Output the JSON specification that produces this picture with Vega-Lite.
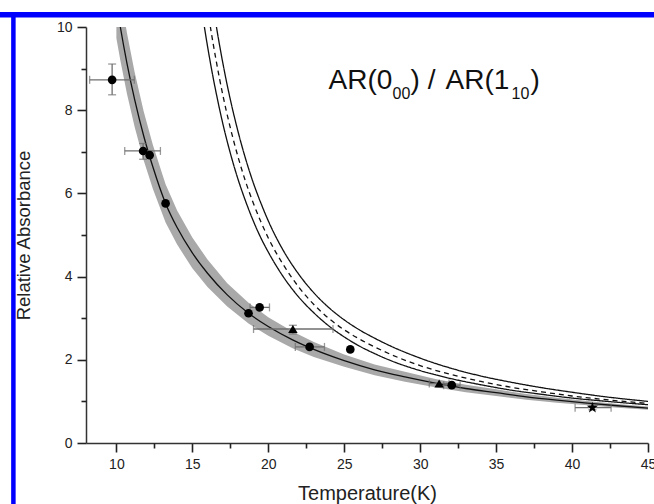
{
  "$schema": "https://vega.github.io/schema/vega-lite/v6.json",
  "width": 562,
  "height": 416,
  "autosize": "none",
  "padding": {"left": 86, "top": 27, "right": 6, "bottom": 61},
  "background": "white",
  "config": {"view": {"stroke": null}, "font": "Liberation Sans"},
  "resolve": {"axis": {"x": "independent", "y": "independent"}},
  "datasets": {
    "fit": [
      {"T": 10.0, "y": 10.58, "lo": 9.73, "hi": 11.43},
      {"T": 10.26, "y": 10.0, "lo": 9.2, "hi": 10.8},
      {"T": 10.7, "y": 9.12, "lo": 8.39, "hi": 9.85},
      {"T": 11.2, "y": 8.26, "lo": 7.6, "hi": 8.92},
      {"T": 11.8, "y": 7.38, "lo": 6.79, "hi": 7.97},
      {"T": 12.4, "y": 6.64, "lo": 6.11, "hi": 7.17},
      {"T": 13.24, "y": 5.76, "lo": 5.3, "hi": 6.22},
      {"T": 14.0, "y": 5.18, "lo": 4.77, "hi": 5.59},
      {"T": 15.0, "y": 4.57, "lo": 4.2, "hi": 4.94},
      {"T": 16.0, "y": 4.08, "lo": 3.75, "hi": 4.41},
      {"T": 17.3, "y": 3.56, "lo": 3.28, "hi": 3.84},
      {"T": 18.7, "y": 3.12, "lo": 2.87, "hi": 3.37},
      {"T": 20.0, "y": 2.8, "lo": 2.58, "hi": 3.02},
      {"T": 21.6, "y": 2.48, "lo": 2.28, "hi": 2.68},
      {"T": 23.0, "y": 2.25, "lo": 2.07, "hi": 2.43},
      {"T": 25.0, "y": 1.98, "lo": 1.83, "hi": 2.13},
      {"T": 27.0, "y": 1.76, "lo": 1.63, "hi": 1.89},
      {"T": 29.0, "y": 1.59, "lo": 1.47, "hi": 1.71},
      {"T": 31.0, "y": 1.44, "lo": 1.34, "hi": 1.54},
      {"T": 33.0, "y": 1.31, "lo": 1.22, "hi": 1.4},
      {"T": 35.0, "y": 1.21, "lo": 1.13, "hi": 1.29},
      {"T": 37.0, "y": 1.11, "lo": 1.04, "hi": 1.18},
      {"T": 39.0, "y": 1.03, "lo": 0.97, "hi": 1.09},
      {"T": 41.0, "y": 0.96, "lo": 0.91, "hi": 1.01},
      {"T": 43.0, "y": 0.895, "lo": 0.85, "hi": 0.94},
      {"T": 45.0, "y": 0.84, "lo": 0.8, "hi": 0.88}
    ],
    "theory": [
      {"series": "inner", "T": 15.6, "y": 10.48},
      {"series": "inner", "T": 15.8, "y": 9.99},
      {"series": "inner", "T": 16.2, "y": 9.12},
      {"series": "inner", "T": 16.6, "y": 8.36},
      {"series": "inner", "T": 17.0, "y": 7.69},
      {"series": "inner", "T": 17.5, "y": 6.97},
      {"series": "inner", "T": 18.0, "y": 6.35},
      {"series": "inner", "T": 18.5, "y": 5.82},
      {"series": "inner", "T": 19.0, "y": 5.35},
      {"series": "inner", "T": 19.5, "y": 4.94},
      {"series": "inner", "T": 20.0, "y": 4.59},
      {"series": "inner", "T": 21.0, "y": 3.99},
      {"series": "inner", "T": 22.0, "y": 3.51},
      {"series": "inner", "T": 23.0, "y": 3.13},
      {"series": "inner", "T": 24.0, "y": 2.81},
      {"series": "inner", "T": 25.0, "y": 2.55},
      {"series": "inner", "T": 26.0, "y": 2.33},
      {"series": "inner", "T": 27.0, "y": 2.15},
      {"series": "inner", "T": 28.0, "y": 1.99},
      {"series": "inner", "T": 30.0, "y": 1.74},
      {"series": "inner", "T": 32.0, "y": 1.55},
      {"series": "inner", "T": 34.0, "y": 1.4},
      {"series": "inner", "T": 36.0, "y": 1.27},
      {"series": "inner", "T": 38.0, "y": 1.17},
      {"series": "inner", "T": 40.0, "y": 1.08},
      {"series": "inner", "T": 42.0, "y": 1.01},
      {"series": "inner", "T": 45.0, "y": 0.92},
      {"series": "mid", "T": 16.0, "y": 10.45},
      {"series": "mid", "T": 16.19, "y": 10.0},
      {"series": "mid", "T": 16.6, "y": 9.13},
      {"series": "mid", "T": 17.0, "y": 8.38},
      {"series": "mid", "T": 17.5, "y": 7.58},
      {"series": "mid", "T": 18.0, "y": 6.89},
      {"series": "mid", "T": 18.5, "y": 6.29},
      {"series": "mid", "T": 19.0, "y": 5.78},
      {"series": "mid", "T": 19.5, "y": 5.33},
      {"series": "mid", "T": 20.0, "y": 4.93},
      {"series": "mid", "T": 21.0, "y": 4.28},
      {"series": "mid", "T": 22.0, "y": 3.75},
      {"series": "mid", "T": 23.0, "y": 3.33},
      {"series": "mid", "T": 24.0, "y": 2.99},
      {"series": "mid", "T": 25.0, "y": 2.72},
      {"series": "mid", "T": 26.0, "y": 2.5},
      {"series": "mid", "T": 27.0, "y": 2.31},
      {"series": "mid", "T": 28.0, "y": 2.14},
      {"series": "mid", "T": 30.0, "y": 1.86},
      {"series": "mid", "T": 32.0, "y": 1.65},
      {"series": "mid", "T": 34.0, "y": 1.48},
      {"series": "mid", "T": 36.0, "y": 1.34},
      {"series": "mid", "T": 38.0, "y": 1.23},
      {"series": "mid", "T": 40.0, "y": 1.13},
      {"series": "mid", "T": 42.0, "y": 1.05},
      {"series": "mid", "T": 45.0, "y": 0.95},
      {"series": "outer", "T": 16.4, "y": 10.44},
      {"series": "outer", "T": 16.59, "y": 10.0},
      {"series": "outer", "T": 17.0, "y": 9.15},
      {"series": "outer", "T": 17.5, "y": 8.26},
      {"series": "outer", "T": 18.0, "y": 7.5},
      {"series": "outer", "T": 18.5, "y": 6.84},
      {"series": "outer", "T": 19.0, "y": 6.27},
      {"series": "outer", "T": 19.5, "y": 5.78},
      {"series": "outer", "T": 20.0, "y": 5.34},
      {"series": "outer", "T": 21.0, "y": 4.62},
      {"series": "outer", "T": 22.0, "y": 4.06},
      {"series": "outer", "T": 23.0, "y": 3.61},
      {"series": "outer", "T": 24.0, "y": 3.25},
      {"series": "outer", "T": 25.0, "y": 2.96},
      {"series": "outer", "T": 26.0, "y": 2.72},
      {"series": "outer", "T": 27.0, "y": 2.52},
      {"series": "outer", "T": 28.0, "y": 2.34},
      {"series": "outer", "T": 30.0, "y": 2.04},
      {"series": "outer", "T": 32.0, "y": 1.8},
      {"series": "outer", "T": 34.0, "y": 1.61},
      {"series": "outer", "T": 36.0, "y": 1.46},
      {"series": "outer", "T": 38.0, "y": 1.33},
      {"series": "outer", "T": 40.0, "y": 1.22},
      {"series": "outer", "T": 42.0, "y": 1.12},
      {"series": "outer", "T": 45.0, "y": 1.0}
    ],
    "pts": [
      {"T": 9.72, "y": 8.73, "shape": "circle", "xlo": 8.24, "xhi": 11.18, "ylo": 8.37, "yhi": 9.11},
      {"T": 11.76, "y": 7.02, "shape": "circle", "xlo": 10.55, "xhi": 12.9, "ylo": 6.82, "yhi": 7.2},
      {"T": 12.19, "y": 6.92, "shape": "circle"},
      {"T": 13.24, "y": 5.76, "shape": "circle"},
      {"T": 18.7, "y": 3.12, "shape": "circle"},
      {"T": 19.43, "y": 3.26, "shape": "circle", "xlo": 18.8, "xhi": 20.08},
      {"T": 21.62, "y": 2.74, "shape": "triangle", "xlo": 19.03, "xhi": 24.26, "ylo": 2.62, "yhi": 2.83},
      {"T": 22.72, "y": 2.31, "shape": "circle", "xlo": 21.78, "xhi": 23.7},
      {"T": 25.4, "y": 2.25, "shape": "circle"},
      {"T": 31.25, "y": 1.43, "shape": "triangle", "xlo": 30.6, "xhi": 31.9},
      {"T": 32.08, "y": 1.39, "shape": "circle", "xlo": 31.55, "xhi": 32.63},
      {"T": 41.34, "y": 0.85, "shape": "star", "xlo": 40.2, "xhi": 42.57, "ylo": 0.8, "yhi": 0.9}
    ]
  },
  "layer": [
    {
      "data": {"name": "fit"},
      "mark": {"type": "area", "color": "#a9a9a9", "opacity": 1, "clip": true},
      "encoding": {
        "x": {
          "field": "T", "type": "quantitative",
          "scale": {"domain": [8, 45], "nice": false, "zero": false},
          "axis": {
            "title": "Temperature(K)", "orient": "bottom",
            "values": [10, 15, 20, 25, 30, 35, 40, 45],
            "ticks": true, "tickSize": 9,
            "grid": false,
            "domainColor": "#333333", "domainWidth": 1.5,
            "tickColor": "#222222", "tickWidth": 1.6,
            "labelFontSize": 14, "labelColor": "#222222", "labelPadding": 5,
            "labelFlush": false, "labelOverlap": false,
            "titleFontSize": 20, "titleFontWeight": "normal", "titleColor": "#222222", "titlePadding": 12
          }
        },
        "y": {
          "field": "lo", "type": "quantitative",
          "scale": {"domain": [0, 10], "nice": false, "zero": false},
          "axis": {
            "title": "Relative Absorbance", "orient": "left",
            "values": [0, 2, 4, 6, 8, 10],
            "ticks": true, "tickSize": 9,
            "grid": false,
            "domainColor": "#333333", "domainWidth": 1.5,
            "tickColor": "#222222", "tickWidth": 1.6,
            "labelFontSize": 14, "labelColor": "#222222", "labelPadding": 5,
            "labelFlush": false, "labelOverlap": false,
            "titleFontSize": 18.5, "titleFontWeight": "normal", "titleColor": "#222222", "titlePadding": 23
          }
        },
        "y2": {"field": "hi"}
      }
    },
    {
      "data": {"name": "theory"},
      "mark": {"type": "line", "color": "#111111", "strokeWidth": 1.3, "clip": true, "interpolate": "monotone"},
      "encoding": {
        "x": {"field": "T", "type": "quantitative", "axis": null},
        "y": {"field": "y", "type": "quantitative", "axis": null},
        "detail": {"field": "series"},
        "strokeDash": {"field": "series", "type": "nominal", "scale": {"domain": ["inner", "mid", "outer"], "range": [[1, 0], [5, 4], [1, 0]]}, "legend": null}
      }
    },
    {
      "data": {"name": "fit"},
      "mark": {"type": "line", "color": "#111111", "strokeWidth": 1.3, "clip": true, "interpolate": "monotone"},
      "encoding": {
        "x": {
          "field": "T", "type": "quantitative",
          "axis": {
            "title": null, "orient": "bottom", "labels": false, "domain": false, "grid": false,
            "values": [12.5, 17.5, 22.5, 27.5, 32.5, 37.5, 42.5],
            "ticks": true, "tickSize": 5, "tickColor": "#222222", "tickWidth": 1.6
          }
        },
        "y": {
          "field": "y", "type": "quantitative",
          "axis": {
            "title": null, "orient": "left", "labels": false, "domain": false, "grid": false,
            "values": [1, 3, 5, 7, 9],
            "ticks": true, "tickSize": 5, "tickColor": "#222222", "tickWidth": 1.6
          }
        }
      }
    },
    {
      "data": {"name": "pts"},
      "transform": [{"filter": "isValid(datum.xlo)"}],
      "layer": [
        {
          "mark": {"type": "rule", "color": "#6e6e6e", "strokeWidth": 1.3},
          "encoding": {
            "x": {"field": "xlo", "type": "quantitative", "axis": null},
            "x2": {"field": "xhi"},
            "y": {"field": "y", "type": "quantitative", "axis": null}
          }
        },
        {
          "mark": {"type": "tick", "color": "#6e6e6e", "orient": "vertical", "size": 8, "thickness": 1.3},
          "encoding": {
            "x": {"field": "xlo", "type": "quantitative", "axis": null},
            "y": {"field": "y", "type": "quantitative", "axis": null}
          }
        },
        {
          "mark": {"type": "tick", "color": "#6e6e6e", "orient": "vertical", "size": 8, "thickness": 1.3},
          "encoding": {
            "x": {"field": "xhi", "type": "quantitative", "axis": null},
            "y": {"field": "y", "type": "quantitative", "axis": null}
          }
        }
      ]
    },
    {
      "data": {"name": "pts"},
      "transform": [{"filter": "isValid(datum.ylo)"}],
      "layer": [
        {
          "mark": {"type": "rule", "color": "#6e6e6e", "strokeWidth": 1.3},
          "encoding": {
            "x": {"field": "T", "type": "quantitative", "axis": null},
            "y": {"field": "ylo", "type": "quantitative", "axis": null},
            "y2": {"field": "yhi"}
          }
        },
        {
          "mark": {"type": "tick", "color": "#6e6e6e", "orient": "horizontal", "size": 8, "thickness": 1.3},
          "encoding": {
            "x": {"field": "T", "type": "quantitative", "axis": null},
            "y": {"field": "ylo", "type": "quantitative", "axis": null}
          }
        },
        {
          "mark": {"type": "tick", "color": "#6e6e6e", "orient": "horizontal", "size": 8, "thickness": 1.3},
          "encoding": {
            "x": {"field": "T", "type": "quantitative", "axis": null},
            "y": {"field": "yhi", "type": "quantitative", "axis": null}
          }
        }
      ]
    },
    {
      "data": {"name": "pts"},
      "transform": [{"filter": "datum.shape === 'circle'"}],
      "mark": {"type": "point", "filled": true, "opacity": 1, "color": "#000000", "shape": "circle", "size": 75},
      "encoding": {
        "x": {"field": "T", "type": "quantitative", "axis": null},
        "y": {"field": "y", "type": "quantitative", "axis": null}
      }
    },
    {
      "data": {"name": "pts"},
      "transform": [{"filter": "datum.shape === 'triangle'"}],
      "mark": {"type": "point", "filled": true, "opacity": 1, "color": "#000000", "shape": "triangle-up", "size": 90},
      "encoding": {
        "x": {"field": "T", "type": "quantitative", "axis": null},
        "y": {"field": "y", "type": "quantitative", "axis": null}
      }
    },
    {
      "data": {"name": "pts"},
      "transform": [{"filter": "datum.shape === 'star'"}],
      "mark": {"type": "point", "filled": true, "opacity": 1, "color": "#000000", "size": 140, "shape": "M0,-1L0.2245,-0.309L0.951,-0.309L0.363,0.118L0.588,0.809L0,0.382L-0.588,0.809L-0.363,0.118L-0.951,-0.309L-0.2245,-0.309Z"},
      "encoding": {
        "x": {"field": "T", "type": "quantitative", "axis": null},
        "y": {"field": "y", "type": "quantitative", "axis": null}
      }
    },
    {
      "data": {"values": [{}]},
      "mark": {"type": "text", "text": "AR(0", "fontSize": 28, "align": "left", "baseline": "alphabetic", "color": "#111111"},
      "encoding": {"x": {"datum": 23.97, "axis": null}, "y": {"datum": 8.5, "axis": null}}
    },
    {
      "data": {"values": [{}]},
      "mark": {"type": "text", "text": "00", "fontSize": 16, "align": "left", "baseline": "alphabetic", "color": "#111111", "dx": 64, "dy": 10},
      "encoding": {"x": {"datum": 23.97, "axis": null}, "y": {"datum": 8.5, "axis": null}}
    },
    {
      "data": {"values": [{}]},
      "mark": {"type": "text", "text": ") /", "fontSize": 28, "align": "left", "baseline": "alphabetic", "color": "#111111", "dx": 82},
      "encoding": {"x": {"datum": 23.97, "axis": null}, "y": {"datum": 8.5, "axis": null}}
    },
    {
      "data": {"values": [{}]},
      "mark": {"type": "text", "text": "AR(1", "fontSize": 28, "align": "left", "baseline": "alphabetic", "color": "#111111", "dx": 117},
      "encoding": {"x": {"datum": 23.97, "axis": null}, "y": {"datum": 8.5, "axis": null}}
    },
    {
      "data": {"values": [{}]},
      "mark": {"type": "text", "text": "10", "fontSize": 16, "align": "left", "baseline": "alphabetic", "color": "#111111", "dx": 183, "dy": 10},
      "encoding": {"x": {"datum": 23.97, "axis": null}, "y": {"datum": 8.5, "axis": null}}
    },
    {
      "data": {"values": [{}]},
      "mark": {"type": "text", "text": ")", "fontSize": 28, "align": "left", "baseline": "alphabetic", "color": "#111111", "dx": 202},
      "encoding": {"x": {"datum": 23.97, "axis": null}, "y": {"datum": 8.5, "axis": null}}
    },
    {
      "data": {"values": [{}]},
      "mark": {"type": "rule", "color": "#0000ff", "strokeWidth": 5.5, "clip": false},
      "encoding": {"x": {"datum": 2.0, "axis": null}, "x2": {"datum": 46.5}, "y": {"datum": 10.293, "axis": null}}
    },
    {
      "data": {"values": [{}]},
      "mark": {"type": "rule", "color": "#0000ff", "strokeWidth": 4.5, "clip": false},
      "encoding": {"x": {"datum": 3.22, "axis": null}, "y": {"datum": 10.36, "axis": null}, "y2": {"datum": -1.8}}
    }
  ]
}
